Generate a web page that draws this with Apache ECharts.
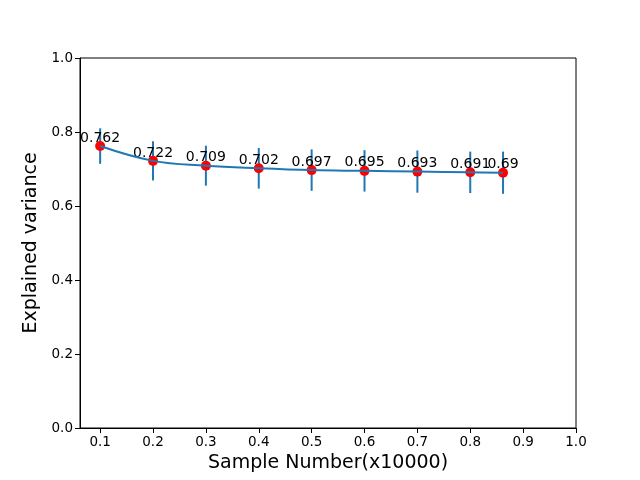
<!DOCTYPE html>
<html>
<head>
<meta charset="utf-8">
<script src="https://cdn.jsdelivr.net/npm/echarts@6/dist/echarts.min.js"></script>
<style>
  html, body { margin: 0; padding: 0; background: #fff; }
  #chart { width: 640px; height: 480px; }
</style>
</head>
<body>
<div id="chart"></div>
<script>
const samples = [0.1, 0.2, 0.3, 0.4, 0.5, 0.6, 0.7, 0.8, 0.862];
const variance = [0.762, 0.722, 0.709, 0.702, 0.697, 0.695, 0.693, 0.691, 0.69];
const errors = [0.048, 0.053, 0.054, 0.055, 0.056, 0.056, 0.057, 0.056, 0.057];
const xTicks = [0.1, 0.2, 0.3, 0.4, 0.5, 0.6, 0.7, 0.8, 0.9, 1.0];

const font = "DejaVu Sans";
const blue = "#1f77b4";

const chart = echarts.init(document.getElementById("chart"));

const option = {
  animation: false,
  textStyle: { fontFamily: font },
  grid: { left: 80, right: 64, top: 58, bottom: 52 },
  xAxis: {
    type: "value",
    min: 0.0619,
    max: 1.0,
    name: "Sample Number(x10000)",
    nameLocation: "middle",
    nameGap: 26,
    nameTextStyle: { fontSize: 19, color: "#000", fontFamily: font, verticalAlign: "top" },
    axisLine: { show: true, onZero: false, lineStyle: { color: "#000", width: 1 } },
    axisTick: { show: true, length: 5, lineStyle: { color: "#000" }, customValues: xTicks },
    axisLabel: {
      color: "#000", fontSize: 13.5, margin: 7, fontFamily: font,
      customValues: xTicks,
      formatter: (v) => v.toFixed(1)
    },
    splitLine: { show: false }
  },
  yAxis: {
    type: "value",
    min: 0,
    max: 1,
    interval: 0.2,
    name: "Explained variance",
    nameLocation: "middle",
    nameGap: 38,
    nameTextStyle: { fontSize: 19, color: "#000", fontFamily: font },
    axisLine: { show: true, lineStyle: { color: "#000", width: 1 } },
    axisTick: { show: true, length: 5, lineStyle: { color: "#000" } },
    axisLabel: {
      color: "#000", fontSize: 13.5, margin: 7, fontFamily: font,
      formatter: (v) => v.toFixed(1)
    },
    splitLine: { show: false }
  },
  series: [
    {
      name: "err",
      type: "custom",
      z: 1,
      silent: true,
      data: samples.map((x, i) => [x, variance[i] - errors[i], variance[i] + errors[i]]),
      renderItem: function (params, api) {
        const lo = api.coord([api.value(0), api.value(1)]);
        const hi = api.coord([api.value(0), api.value(2)]);
        return {
          type: "line",
          shape: { x1: lo[0], y1: lo[1], x2: hi[0], y2: hi[1] },
          style: { stroke: blue, lineWidth: 2 }
        };
      }
    },
    {
      name: "points",
      type: "scatter",
      z: 2,
      symbolSize: 10,
      itemStyle: { color: "#ff0000", opacity: 1 },
      data: samples.map((x, i) => [x, variance[i]]),
      label: {
        show: true,
        position: "top",
        distance: -4,
        color: "#000",
        fontSize: 14,
        fontFamily: font,
        formatter: (p) => String(p.value[1])
      }
    },
    {
      name: "curve",
      type: "line",
      z: 3,
      smooth: 0.4,
      symbol: "none",
      lineStyle: { color: blue, width: 2 },
      data: samples.map((x, i) => [x, variance[i]])
    }
  ]
};

chart.setOption(option);

// top and right sides of the axes box
const r = chart.getModel().getComponent("grid").coordinateSystem.getRect();
chart.setOption({
  graphic: [{
    type: "rect",
    silent: true,
    z: 0,
    shape: { x: r.x, y: r.y, width: r.width, height: r.height },
    style: { fill: "none", stroke: "#000", lineWidth: 1 }
  }]
});
</script>
</body>
</html>
